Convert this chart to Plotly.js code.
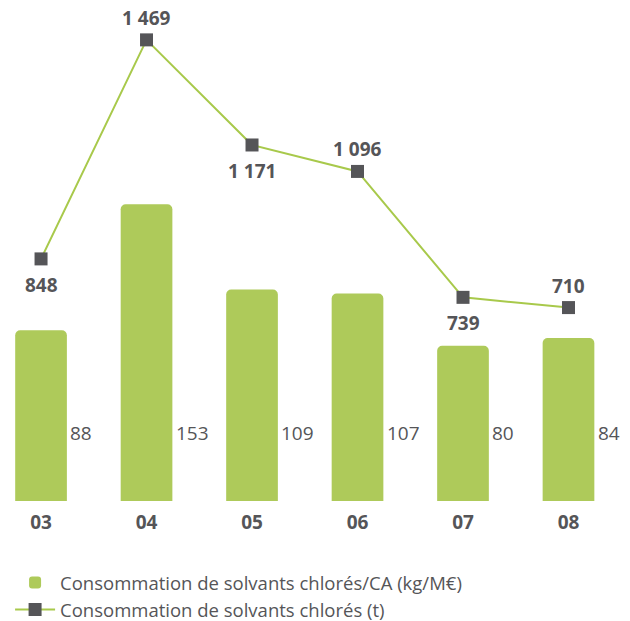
<!DOCTYPE html>
<html>
<head>
<meta charset="utf-8">
<script src="https://cdn.plot.ly/plotly-3.0.1.min.js"></script>
<style>html,body{margin:0;padding:0;background:#fff;}#chart{width:630px;height:621px;}</style>
</head>
<body>
<div id="chart"></div>
<script>
const years = ["03", "04", "05", "06", "07", "08"];
const ratioValues = [88, 153, 109, 107, 80, 84];
const tonnesValues = [848, 1469, 1171, 1096, 739, 710];
const tonnesLabels = ["848", "1 469", "1 171", "1 096", "739", "710"];
const labelSides = ["below", "above", "below", "above", "below", "above"];
const barName = "Consommation de solvants chlorés/CA (kg/M€)";
const lineName = "Consommation de solvants chlorés (t)";

const GREEN = "#aeca5a";
const LINEGREEN = "#a8c94b";
const DARK = "#555558";
const FONT = "'Open Sans', 'Noto Sans', sans-serif";

const xIdx = years.map((_, i) => i);

const barTrace = {
  type: "bar",
  x: xIdx,
  y: ratioValues,
  name: barName,
  width: 0.49,
  marker: { color: GREEN, cornerradius: 5 },
  hoverinfo: "skip"
};
const lineTrace = {
  type: "scatter",
  mode: "lines+markers",
  x: xIdx,
  y: tonnesValues,
  yaxis: "y2",
  name: lineName,
  line: { color: LINEGREEN, width: 2 },
  marker: { symbol: "square", size: 13, color: DARK },
  hoverinfo: "skip"
};

const annotations = [];
ratioValues.forEach((v, i) => {
  annotations.push({
    x: i + 0.26, y: 35, xref: "x", yref: "y",
    text: String(v), showarrow: false, xanchor: "left", yanchor: "middle",
    font: { family: FONT, size: 19, color: DARK }
  });
});
tonnesValues.forEach((v, i) => {
  annotations.push({
    x: i, y: v, xref: "x", yref: "y2",
    text: "<b>" + tonnesLabels[i] + "</b>", showarrow: false,
    xanchor: "center", yanchor: "middle",
    yshift: labelSides[i] === "below" ? -26 : 22,
    font: { family: FONT, size: 19, color: DARK }
  });
});

const layout = {
  width: 630, height: 621,
  margin: { l: 0, r: 0, t: 10, b: 120 },
  paper_bgcolor: "#fff", plot_bgcolor: "#fff",
  font: { family: FONT, color: DARK },
  showlegend: true,
  legend: {
    orientation: "v", x: 0.016, xanchor: "left",
    yref: "container", y: 0.092, yanchor: "top",
    font: { family: FONT, size: 18.5, color: DARK },
    tracegroupgap: 0, itemwidth: 40
  },
  xaxis: {
    range: [-0.389, 5.583],
    tickvals: xIdx, ticktext: years.map(y => "<b>" + y + "</b>"),
    showgrid: false, zeroline: false, showline: false, ticks: "",
    tickfont: { family: FONT, size: 19, color: DARK },
    ticklabelstandoff: 8, fixedrange: true
  },
  yaxis: {
    range: [0, 253.1], visible: false, showgrid: false, zeroline: false, fixedrange: true
  },
  yaxis2: {
    range: [161.6, 1553.7], overlaying: "y", side: "right", visible: false,
    showgrid: false, zeroline: false, fixedrange: true
  },
  annotations: annotations
};

Plotly.newPlot("chart", [barTrace, lineTrace], layout, { staticPlot: true, displayModeBar: false });
</script>
</body>
</html>
